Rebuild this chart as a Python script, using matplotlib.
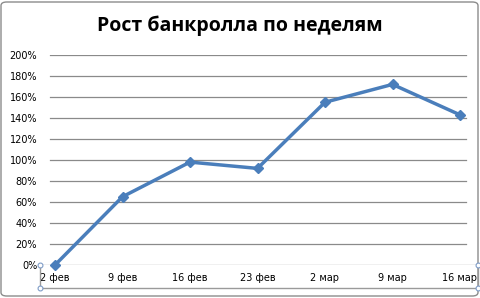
import matplotlib
matplotlib.use('Agg')
import matplotlib.pyplot as plt
from matplotlib.patches import FancyBboxPatch
from matplotlib.ticker import PercentFormatter

weeks = ['2 фев', '9 фев', '16 фев', '23 фев', '2 мар', '9 мар', '16 мар']
growth = [0, 65, 98, 92, 155, 172, 143]
yticks = list(range(0, 201, 20))

W, H = 480, 298
fig = plt.figure(figsize=(W / 100, H / 100), dpi=100)

# rounded outer border of the chart
fig.patches.append(FancyBboxPatch((1 / W, 2 / H), 1 - 3 / W, 1 - 4 / H,
                                  boxstyle='round,pad=0,rounding_size=0.012',
                                  transform=fig.transFigure, fill=False,
                                  ec='#8c8c8c', lw=1))

ax = fig.add_axes([40 / W, (H - 265) / H, 438 / W, 210 / H])
ax.set_xlim(-15 / 67.5, 6 + 18 / 67.5)
ax.set_ylim(0, 200)
for s in ax.spines.values():
    s.set_visible(False)

gl_x0, gl_x1 = 10 / 438, 426 / 438
for t in yticks[1:]:
    ax.axhline(t, gl_x0, gl_x1, color='#8a8a8a', lw=0.9, zorder=1)
ax.axhline(0, 0, 1, color='#8a8a8a', lw=0.9, zorder=1)

x = list(range(len(weeks)))
ax.plot(x, growth, color='#4a7ebb', lw=2.5, marker='D', ms=5.5,
        mec='#4a7ebb', mfc='#4a7ebb', zorder=3, clip_on=False)

ax.set_yticks(yticks)
ax.yaxis.set_major_formatter(PercentFormatter(decimals=0))
ax.set_xticks(x)
ax.set_xticklabels(weeks)
ax.tick_params(axis='both', length=0, labelsize=7, colors='black')
ax.tick_params(axis='y', pad=2)
ax.tick_params(axis='x', pad=6)

# plot-area border below the axis (selection frame)
pa_bottom = (H - 288) / H
fig.add_artist(plt.Line2D([40 / W, 40 / W], [(H - 265) / H, pa_bottom], color='#9a9a9a', lw=1))
fig.add_artist(plt.Line2D([478 / W, 478 / W], [(H - 265) / H, pa_bottom], color='#9a9a9a', lw=1))
fig.add_artist(plt.Line2D([40 / W, 478 / W], [pa_bottom, pa_bottom], color='#9a9a9a', lw=1))
for px, py in [(40, 265), (40, 288), (478, 265), (478, 288)]:
    fig.add_artist(plt.Line2D([px / W], [(H - py) / H], marker='o', ms=3.5,
                              mfc='white', mec='#7f9cc7', mew=0.8, lw=0))

fig.text(0.5, (H - 26) / H, 'Рост банкролла по неделям', ha='center', va='center',
         fontsize=14, fontweight='bold', family=['Open Sans', 'DejaVu Sans'])

fig.savefig('out.png', dpi=100)
